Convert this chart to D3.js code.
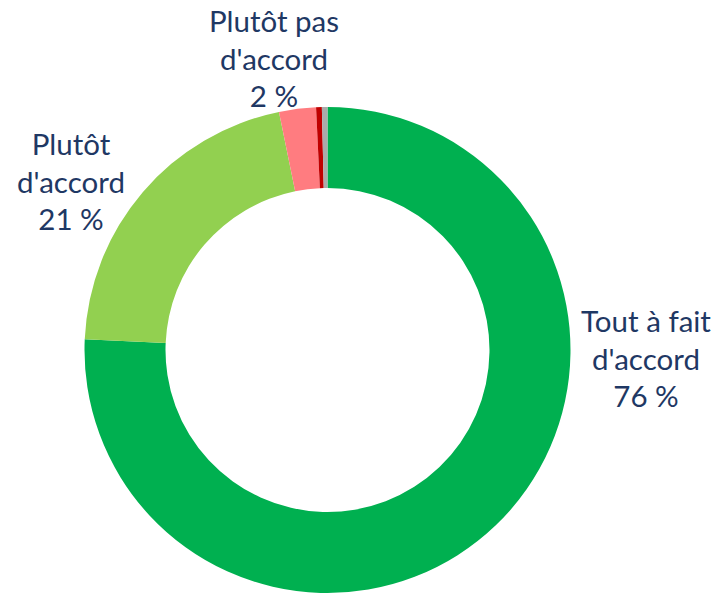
<!DOCTYPE html>
<html lang="fr">
<head>
  <meta charset="UTF-8" />
  <title>Donut - accord</title>
  <script src="https://d3js.org/d3.v7.min.js"></script>
  <style>
    html, body { margin: 0; padding: 0; background: #fff; }
    svg { display: block; }
    .lbl { font-family: Lato, "Open Sans", sans-serif; fill: #1F3864; }
  </style>
</head>
<body>
  <svg id="chart" width="713" height="594"></svg>
  <script>
    // data
    const categories = ["Tout à fait d'accord", "Plutôt d'accord", "Plutôt pas d'accord", "Pas du tout d'accord", "Ne sait pas"];
    const values = [75.7, 21.1, 2.45, 0.38, 0.37];
    const pctLabels = ["76 %", "21 %", "2 %", null, null];
    const labelLines = [["Tout à fait", "d'accord"], ["Plutôt", "d'accord"], ["Plutôt pas", "d'accord"], null, null];
    const colors = ["#00B050", "#92D050", "#FF7C80", "#C00000", "#ABABAB"];

    const svg = d3.select("#chart");
    const cx = 327.5, cy = 350, outerR = 243, innerR = 162;

    const g = svg.append("g").attr("transform", `translate(${cx},${cy})`);

    const pie = d3.pie().sort(null).value(d => d);
    const arc = d3.arc().innerRadius(innerR).outerRadius(outerR);

    g.selectAll("path")
      .data(pie(values))
      .enter().append("path")
        .attr("d", arc)
        .attr("fill", (d, i) => colors[i]);

    // label anchors (centre of text block, first baseline)
    const labelPos = [[646, 332], [71, 155], [274, 32]];
    const lineH = 37.5;

    labelLines.forEach((lines, i) => {
      if (!lines) return;
      const t = svg.append("text")
        .attr("class", "lbl")
        .attr("text-anchor", "middle")
        .attr("font-size", "29.5px");
      lines.concat([pctLabels[i]]).forEach((s, k) => {
        t.append("tspan")
          .attr("x", labelPos[i][0])
          .attr("y", labelPos[i][1] + k * lineH)
          .text(s);
      });
    });
  </script>
</body>
</html>
